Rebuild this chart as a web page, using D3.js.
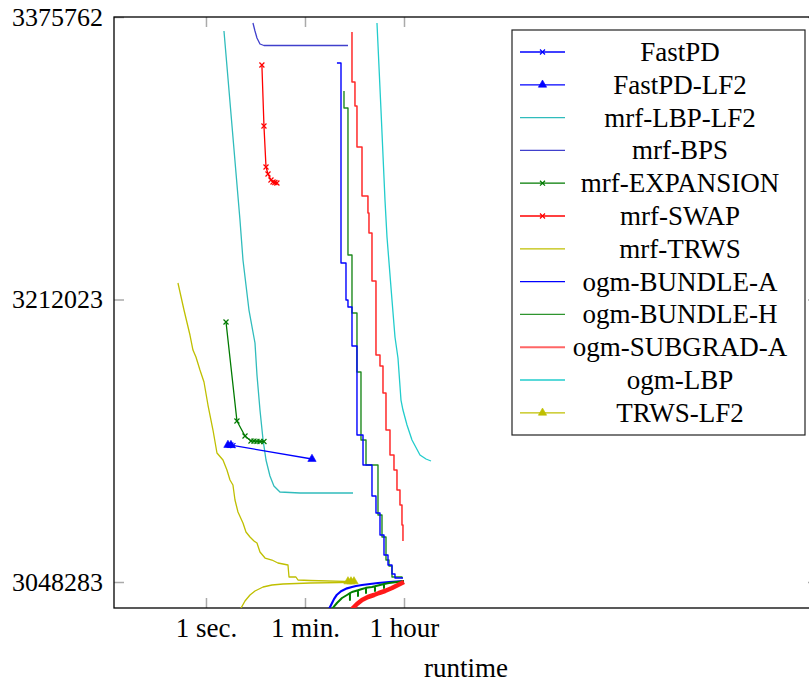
<!DOCTYPE html>
<html>
<head>
<meta charset="utf-8">
<script src="https://cdn.jsdelivr.net/npm/d3@7"></script>
<style>
  body { margin: 0; background: #fff; }
  svg text { fill: #000; }
</style>
</head>
<body>
<svg id="chart" width="809" height="683"></svg>
<script>
// runtime in seconds, energy value
const xTicks = [1, 60, 3600];
const xTickLabels = ["1 sec.", "1 min.", "1 hour"];
const yTicks = [3048283, 3212023, 3375762];

const fastPD = [[2.81, 3127600], [3.05, 3127300]];
const fastPDLF2 = [[2.48, 3127690], [2.81, 3127600], [80.1, 3119570]];
const mrfLBPLF2 = [[2.105, 3367640], [4.08, 3258100], [4.62, 3234910], [5.92, 3205930], [7.59, 3186810],
  [8.24, 3168260], [9.33, 3147970], [10.6, 3130590], [11.97, 3118990], [14.1, 3109720], [16.6, 3103930],
  [21.3, 3100450], [48.8, 3099870], [437, 3099870]];
const mrfBPS = [[6.98, 3372280], [7.59, 3367640], [8.24, 3363590], [9.33, 3360110], [11.0, 3359240], [355, 3359240]];
const mrfExpansion = [[2.29, 3198980], [3.60, 3141600], [5.02, 3132900], [6.43, 3130010], [7.28, 3129900],
  [8.24, 3129800], [9.33, 3129700], [11.0, 3129700]];
const mrfSwap = [[10.1, 3347940], [11.0, 3312580], [11.97, 3288820], [13.0, 3284760], [14.7, 3281280],
  [16.0, 3280120], [17.3, 3279830], [18.8, 3279540]];
const mrfTRWS = [[0.314, 3221580], [0.403, 3205930], [0.516, 3191440], [0.584, 3182750], [0.661, 3178690],
  [0.780, 3171160], [0.921, 3164200], [1.086, 3150870], [1.336, 3136380], [1.576, 3123050], [2.02, 3118990],
  [2.38, 3113200], [2.70, 3107400], [3.05, 3104500], [3.32, 3095810], [3.755, 3088860], [4.62, 3082480],
  [5.23, 3077260], [6.17, 3074370], [7.28, 3072050], [8.24, 3070890], [9.33, 3065670], [11.5, 3062190],
  [15.3, 3061030], [19.6, 3059300], [29.7, 3058140], [31.0, 3051180], [41.3, 3051180], [44.9, 3049440],
  [73.8, 3049150], [437, 3048500]];
const mrfTRWSBound = [[4.08, 3032050], [5.02, 3037270], [6.17, 3040750], [7.59, 3043070], [10.6, 3045390],
  [15.3, 3046540], [24.2, 3047120], [73.8, 3047700], [437, 3048100]];
const bundleA = [[225, 3349100], [266, 3233180], [327, 3211730], [355, 3207670], [419, 3185070], [515, 3133480],
  [661, 3116100], [958, 3098130], [1130, 3088280], [1334, 3075520], [1574, 3063930], [1857, 3058140],
  [2191, 3052920], [2479, 3050600], [3450, 3050600]];
const bundleABound = [[162, 3032630], [180, 3035500], [200, 3038500], [225, 3040900], [266, 3042900], [341, 3044600],
  [419, 3045390], [494, 3045960], [634, 3046540], [881, 3047120], [1228, 3047700], [1935, 3048280], [3596, 3048860]];
const bundleH = [[301, 3332870], [301, 3323010], [355, 3237810], [419, 3204200], [515, 3170000], [608, 3130590],
  [748, 3116100], [1228, 3087120], [1449, 3074370], [1710, 3061030], [1935, 3057560], [2191, 3051180], [3311, 3050500]];
const bundleHBound = [[183, 3032630], [225, 3036110], [277, 3039010], [341, 3040750], [385, 3041800], [385, 3037850],
  [385, 3041800], [419, 3042490], [537, 3043500], [537, 3040170], [537, 3043500], [634, 3044230], [748, 3044900],
  [748, 3041910], [748, 3044900], [958, 3045390], [1084, 3045800], [1084, 3043070], [1084, 3045800], [1334, 3046540],
  [1574, 3047100], [1574, 3044810], [1574, 3047100], [1935, 3047700], [2693, 3048280], [3596, 3048860]];
const subgradA = [[419, 3367060], [419, 3338080], [474, 3324170], [515, 3300410], [634, 3272010], [811, 3262160],
  [846, 3250560], [958, 3222740], [1130, 3179850], [1334, 3173480], [1510, 3157830], [1710, 3136380], [2017, 3121890],
  [2379, 3113200], [2693, 3101610], [3048, 3092910], [3311, 3081320], [3450, 3072050]];
const subgradABound = [[419, 3032630], [515, 3035530], [634, 3037850], [811, 3039590], [1040, 3040750],
  [1280, 3041910], [1640, 3043070], [2191, 3044810], [2806, 3046540], [3596, 3048280]];
const ogmLBP = [[1178, 3372280], [1390, 3321850], [1640, 3269690], [1782, 3248250], [2191, 3211730], [2479, 3190290],
  [2806, 3178110], [3177, 3153770], [3450, 3147970], [4074, 3139280], [5010, 3130590], [6970, 3121890],
  [8940, 3119570], [10990, 3118410]];
const trwsLF2 = [[355, 3048600], [402, 3048600], [455, 3048600]];

const serif = "\"Liberation Serif\", \"DejaVu Serif\", \"Noto Serif\", \"Times New Roman\", Times, FreeSerif, Tinos, serif";
const plot = { left: 114, right: 818, top: 17, bottom: 608 };

const svg = d3.select("#chart").style("font-family", serif);

const x = d3.scaleLog().domain([0.0223, 9.8e10]).range([plot.left, plot.right]);
const y = d3.scaleLinear().domain([3033213, 3375762]).range([plot.bottom, plot.top]);

svg.append("defs").append("clipPath").attr("id", "clip")
  .append("rect")
  .attr("x", plot.left).attr("y", plot.top)
  .attr("width", plot.right - plot.left).attr("height", plot.bottom - plot.top);

// ticks (inward, gray)
function styleAxis(g) {
  g.attr("font-family", serif);
  g.select(".domain").remove();
  g.selectAll(".tick line").attr("stroke", "#aaa").attr("stroke-width", 1.5);
}

svg.append("g")
  .attr("transform", "translate(0," + plot.bottom + ")")
  .call(d3.axisBottom(x).tickValues(xTicks).tickSize(-10)
    .tickFormat((d, i) => xTickLabels[i]))
  .call(styleAxis)
  .call(g => g.selectAll(".tick text").attr("y", 29).attr("dy", 0)
    .attr("font-size", 27).attr("font-family", serif));

svg.append("g")
  .attr("transform", "translate(0," + plot.top + ")")
  .call(d3.axisTop(x).tickValues(xTicks).tickSize(-10).tickFormat(""))
  .call(styleAxis);

svg.append("g")
  .attr("transform", "translate(" + plot.left + ",0)")
  .call(d3.axisLeft(y).tickValues(yTicks).tickSize(-10).tickPadding(11).tickFormat(d3.format("d")))
  .call(styleAxis)
  .call(g => g.selectAll(".tick text").attr("x", -11)
    .attr("font-size", 26).attr("font-family", serif));

svg.append("g")
  .attr("transform", "translate(" + plot.right + ",0)")
  .call(d3.axisRight(y).tickValues(yTicks).tickSize(-10).tickFormat(""))
  .call(styleAxis);

// frame
svg.append("rect")
  .attr("x", plot.left).attr("y", plot.top)
  .attr("width", plot.right - plot.left).attr("height", plot.bottom - plot.top)
  .attr("fill", "none").attr("stroke", "#000").attr("stroke-width", 1.3);

svg.append("text")
  .attr("x", (plot.left + plot.right) / 2).attr("y", 677)
  .attr("text-anchor", "middle").attr("font-size", 27)
  .attr("font-family", serif)
  .text("runtime");

// series
const series = [
  { name: "mrf-TRWS bound", data: mrfTRWSBound, color: "#bfbf00", width: 1.3 },
  { name: "ogm-BUNDLE-A bound", data: bundleABound, color: "#0000ff", width: 2.2 },
  { name: "ogm-BUNDLE-H bound", data: bundleHBound, color: "#008000", width: 2 },
  { name: "ogm-SUBGRAD-A bound", data: subgradABound, color: "#ff1a1a", width: 4.5 },
  { name: "mrf-LBP-LF2", data: mrfLBPLF2, color: "#30bcbc", width: 1.3 },
  { name: "mrf-BPS", data: mrfBPS, color: "#4040cc", width: 1.3 },
  { name: "mrf-TRWS", data: mrfTRWS, color: "#bfbf00", width: 1.3 },
  { name: "mrf-EXPANSION", data: mrfExpansion, color: "#007a00", width: 1.3, marker: "x" },
  { name: "mrf-SWAP", data: mrfSwap, color: "#ff0000", width: 1.3, marker: "x" },
  { name: "FastPD-LF2", data: fastPDLF2, color: "#0000ff", width: 1.3, marker: "tri" },
  { name: "FastPD", data: fastPD, color: "#0000ff", width: 1.3, marker: "x" },
  { name: "ogm-BUNDLE-H", data: bundleH, color: "#1f8a1f", width: 1.4, step: true },
  { name: "ogm-BUNDLE-A", data: bundleA, color: "#0000ff", width: 1.4, step: true },
  { name: "ogm-SUBGRAD-A", data: subgradA, color: "#ff2a2a", width: 1.5, step: true },
  { name: "ogm-LBP", data: ogmLBP, color: "#22cccc", width: 1.3 },
  { name: "TRWS-LF2", data: trwsLF2, color: "#bfbf00", width: 1.3, marker: "tri" }
];

const xMark = d3.symbol(d3.symbolTimes, 18);
const triMark = d3.symbol(d3.symbolTriangle, 30);

const plotG = svg.append("g").attr("clip-path", "url(#clip)");

series.forEach(s => {
  const line = d3.line()
    .x(d => x(d[0])).y(d => y(d[1]))
    .curve(s.step ? d3.curveStepAfter : d3.curveLinear);
  plotG.append("path")
    .datum(s.data)
    .attr("d", line)
    .attr("fill", "none")
    .attr("stroke", s.color)
    .attr("stroke-width", s.width)
    .attr("stroke-linejoin", "round");
  if (s.marker) {
    plotG.selectAll(null)
      .data(s.data)
      .enter()
      .append("path")
      .attr("transform", d => "translate(" + x(d[0]) + "," + y(d[1]) + ")")
      .attr("d", s.marker === "x" ? xMark : triMark)
      .attr("fill", s.marker === "x" ? "none" : s.color)
      .attr("stroke", s.color)
      .attr("stroke-width", s.marker === "x" ? 1.2 : 0.6);
  }
});

// legend
const legendItems = [
  { name: "FastPD", color: "#0000ff", marker: "x" },
  { name: "FastPD-LF2", color: "#0000ff", marker: "tri" },
  { name: "mrf-LBP-LF2", color: "#30bcbc" },
  { name: "mrf-BPS", color: "#4040cc" },
  { name: "mrf-EXPANSION", color: "#007a00", marker: "x" },
  { name: "mrf-SWAP", color: "#ff0000", marker: "x" },
  { name: "mrf-TRWS", color: "#bfbf00" },
  { name: "ogm-BUNDLE-A", color: "#0000ff" },
  { name: "ogm-BUNDLE-H", color: "#2e952e" },
  { name: "ogm-SUBGRAD-A", color: "#ff6666", wide: true },
  { name: "ogm-LBP", color: "#22cccc" },
  { name: "TRWS-LF2", color: "#bfbf00", marker: "tri" }
];

const legend = svg.append("g").attr("class", "legend");
legend.append("rect")
  .attr("x", 512).attr("y", 30).attr("width", 293).attr("height", 405)
  .attr("fill", "#fff").attr("stroke", "#222").attr("stroke-width", 1.2);

const rows = legend.selectAll("g.row")
  .data(legendItems)
  .enter()
  .append("g")
  .attr("class", "row")
  .attr("transform", (d, i) => "translate(0," + (52 + i * 32.8) + ")");

rows.append("line")
  .attr("x1", 520).attr("x2", 565)
  .attr("stroke", d => d.color)
  .attr("stroke-width", d => d.wide ? 2 : 1.3);

rows.filter(d => d.marker)
  .append("path")
  .attr("transform", "translate(542.5,0)")
  .attr("d", d => d.marker === "x" ? xMark() : triMark())
  .attr("fill", d => d.marker === "x" ? "none" : d.color)
  .attr("stroke", d => d.color)
  .attr("stroke-width", d => d.marker === "x" ? 1.2 : 0.6);

rows.append("text")
  .attr("x", 680)
  .attr("dy", "0.33em")
  .attr("text-anchor", "middle")
  .attr("font-size", 27)
  .attr("font-family", serif)
  .text(d => d.name);
</script>
</body>
</html>
